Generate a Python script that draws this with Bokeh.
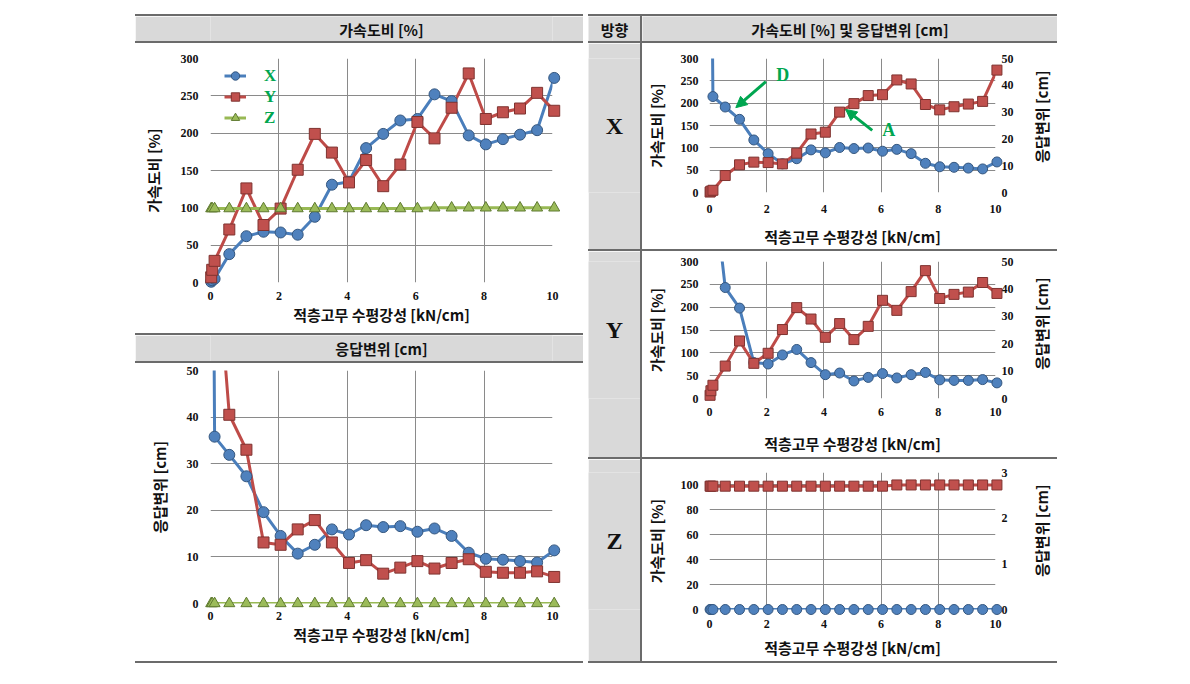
import math
from bokeh.plotting import figure
from bokeh.layouts import row, column
from bokeh.models import (Range1d, LinearAxis, FixedTicker, Spacer, Legend, LegendItem, Div,
                          Arrow, NormalHead, Label, ColumnDataSource, CDSView, BooleanFilter)
from bokeh.embed import file_html
from bokeh.resources import INLINE

# ---------------- data ----------------
stiffness = [0.02, 0.05, 0.12, 0.55, 1.05, 1.55, 2.05, 2.55, 3.05, 3.55, 4.05, 4.55,
             5.05, 5.55, 6.05, 6.55, 7.05, 7.55, 8.05, 8.55, 9.05, 9.55, 10.05]
acc_x = [1, 3, 5, 38, 62, 68, 67, 64, 88, 131, 135, 180, 199, 217, 219, 252, 243,
         197, 185, 192, 198, 204, 274]
acc_y = [7, 17, 29, 71, 126, 77, 99, 151, 199, 174, 134, 164, 129, 158, 215, 193,
         234, 280, 219, 228, 233, 254, 230]
acc_z = [99, 99, 99, 99, 99, 99, 99, 99, 99, 99, 99, 99, 99, 99, 99, 100, 100, 100,
         100, 100, 100, 100, 100]
disp_x = [250, 120, 35.8, 31.9, 27.3, 19.6, 14.5, 10.7, 12.6, 15.9, 14.8, 16.8, 16.4,
          16.6, 15.4, 16.1, 14.5, 10.9, 9.6, 9.4, 9.1, 8.8, 11.4]
disp_y = [150, 120, 80, 40.5, 33.0, 13.1, 12.6, 15.9, 17.9, 13.1, 8.7, 9.3, 6.4, 7.7,
          9.1, 7.5, 8.7, 9.5, 6.8, 6.6, 6.6, 6.9, 5.7]
disp_z = [0, 0, 0, 0, 0, 0, 0, 0, 0, 0, 0, 0, 0, 0, 0, 0, 0, 0, 0, 0, 0, 0, 0]

x_ticks = [0, 2, 4, 6, 8, 10]
x_grid = [2, 4, 6, 8, 10]
acc_ticks = [0, 50, 100, 150, 200, 250, 300]
disp_ticks = [0, 10, 20, 30, 40, 50]
accz_ticks = [0, 20, 40, 60, 80, 100]
dispz_ticks = [0, 1, 2, 3]

series_names = ["X", "Y", "Z"]
x_title = "적층고무 수평강성 [kN/cm]"
acc_title = "가속도비 [%]"
disp_title = "응답변위 [cm]"

# ---------------- style ----------------
KR = "Noto Sans CJK KR"
SERIF = "Liberation Serif"
HDR = "#d9d9d9"
LINE = "#6b6b6b"
GRID = "#8a8a8a"
BLUE = dict(line="#4a7ebb", fill="#4f81bd", edge="#35577f")
RED = dict(line="#be4b48", fill="#c0504d", edge="#7f3330")
GREEN = dict(line="#98b954", fill="#9bbb59", edge="#5f7a30")
LEG_GREEN = "#00a650"


def cell(w, h, txt=None, size="15px", font=KR, fill=HDR, ty=0.5, angle=0.0):
    p = figure(width=w, height=h, x_range=Range1d(0, 1), y_range=Range1d(0, 1),
               min_border=0, toolbar_location=None, output_backend="svg",
               x_axis_location=None, y_axis_location=None,
               background_fill_color=fill, border_fill_color=fill, outline_line_color=None)
    p.grid.visible = False
    if txt:
        p.add_layout(Label(x=0.5, y=ty, text=txt, angle=angle, text_align="center",
                           text_baseline="middle", text_font=font, text_font_size=size,
                           text_font_style="bold", text_color="#111111"))
    return p


def strip(w, h):
    return Div(text="", width=w, height=h,
               styles={"background-color": LINE, "margin": "0", "padding": "0"})


def style_axis(ax, ticks, label_standoff, title_standoff, title):
    ax.ticker = FixedTicker(ticks=ticks)
    ax.axis_line_color = None
    ax.major_tick_line_color = None
    ax.minor_tick_line_color = None
    ax.major_tick_out = 0
    ax.major_tick_in = 0
    ax.major_label_text_font = SERIF
    ax.major_label_text_font_style = "bold"
    ax.major_label_text_font_size = "12px"
    ax.major_label_text_color = "#111111"
    ax.major_label_standoff = label_standoff
    ax.axis_label = title
    ax.axis_label_text_font = KR
    ax.axis_label_text_font_style = "bold"
    ax.axis_label_text_font_size = "15px"
    ax.axis_label_text_color = "#111111"
    ax.axis_label_standoff = title_standoff


def chart(w, h, borders, yrange, yticks, xstand, ystand):
    l, r, t, b = borders
    p = figure(width=w, height=h, x_range=Range1d(0, 10), y_range=Range1d(*yrange),
               toolbar_location=None, output_backend="svg",
               min_border_left=l, min_border_right=r, min_border_top=t, min_border_bottom=b,
               outline_line_color=None, background_fill_color="white")
    style_axis(p.xaxis[0], x_ticks, xstand[0], xstand[1], x_title)
    style_axis(p.yaxis[0], yticks, ystand[0], ystand[1], acc_title)
    p.xgrid.ticker = FixedTicker(ticks=x_grid)
    p.grid.grid_line_color = GRID
    p.grid.grid_line_width = 1
    return p


def series(p, y, ymax, col, marker, size, rng="default"):
    src = ColumnDataSource(dict(x=stiffness, y=y))
    ln = p.line("x", "y", source=src, line_color=col["line"], line_width=3, y_range_name=rng)
    view = CDSView(filter=BooleanFilter([v <= ymax for v in y]))
    sc = p.scatter("x", "y", source=src, view=view, marker=marker, size=size,
                   fill_color=col["fill"], line_color=col["edge"], line_width=1,
                   y_range_name=rng)
    sc.level = "overlay"
    return ln, sc


# ---------------- left table ----------------
c1 = chart(448, 290, (74, 31, 15, 51), (0, 300), acc_ticks, (9, 1), (12, 14))
r1 = [series(c1, acc_x, 300, BLUE, "circle", 11),
      series(c1, acc_y, 300, RED, "square", 11),
      series(c1, acc_z, 300, GREEN, "triangle", 11)]
leg = Legend(items=[LegendItem(label=n, renderers=list(rs)) for n, rs in zip(series_names, r1)],
             location=(14, 154), padding=4, margin=0, spacing=0,
             glyph_width=22, glyph_height=21, label_height=21, label_standoff=18,
             label_text_font=SERIF, label_text_font_style="bold", label_text_font_size="17px",
             label_text_color=LEG_GREEN, background_fill_alpha=0, border_line_color=None)
c1.add_layout(leg)

c2 = chart(448, 298, (75, 31, 7, 58), (0, 50), disp_ticks, (8, 1), (12, 14))
c2.yaxis[0].axis_label = disp_title
series(c2, disp_x, 50, BLUE, "circle", 11)
series(c2, disp_y, 50, RED, "square", 11)
series(c2, disp_z, 50, GREEN, "triangle", 11)

left = column(Spacer(width=448, height=14), strip(448, 2), cell(448, 25, acc_title),
              strip(448, 2), c1, strip(448, 2), cell(448, 26, disp_title), strip(448, 2),
              c2, strip(448, 2))


# ---------------- right table ----------------
def panel(h, borders, yrange, yticks, drange, dticks, acc, disp, xstand, dmax):
    p = chart(383, h, borders, yrange, yticks, xstand, (11, 11))
    p.extra_y_ranges = {"disp": Range1d(*drange)}
    ax = LinearAxis(y_range_name="disp")
    style_axis(ax, dticks, 6, 0, None)
    p.add_layout(ax, "right")
    series(p, disp, dmax, BLUE, "circle", 10, "disp")
    series(p, acc, yrange[1], RED, "square", 10)
    return p


px = panel(206, (66, 30, 15, 54), (0, 300), acc_ticks, (0, 50), disp_ticks,
           acc_x, disp_x, (12, 10), 50)
for (x0, y0, x1, y1) in [(1.97, 248, 0.92, 190), (5.69, 139, 4.76, 186)]:
    px.add_layout(Arrow(end=NormalHead(size=11, fill_color=LEG_GREEN, line_color=LEG_GREEN),
                        x_start=x0, y_start=y0, x_end=x1, y_end=y1,
                        line_color=LEG_GREEN, line_width=3, level="overlay"))
for (tx, ty, tt) in [(2.56, 263, "D"), (6.27, 139, "A")]:
    px.add_layout(Label(x=tx, y=ty, text=tt, text_align="center", text_baseline="middle",
                        text_font=SERIF, text_font_style="bold", text_font_size="18px",
                        text_color=LEG_GREEN))

py = panel(206, (66, 30, 10, 59), (0, 300), acc_ticks, (0, 50), disp_ticks,
           acc_y, disp_y, (9, 14), 50)
pz = panel(202, (66, 30, 13, 52), (0, 110), accz_ticks, (0, 3), dispz_ticks,
           acc_z, disp_z, (10, 6), 3)


def side_title(h, ty):
    return cell(32, h, disp_title, "15px", KR, "white", ty, math.pi / 2)


right = column(Spacer(width=469, height=14), strip(469, 2),
               row(cell(52, 25, "방향"), strip(2, 25), cell(415, 25, "가속도비 [%] 및 응답변위 [cm]")),
               strip(469, 2),
               row(cell(52, 206, "X", "24px", SERIF), strip(2, 206), px, side_title(206, 0.567)),
               strip(469, 2),
               row(cell(52, 206, "Y", "24px", SERIF), strip(2, 206), py, side_title(206, 0.547)),
               strip(469, 2),
               row(cell(52, 202, "Z", "24px", SERIF), strip(2, 202), pz, side_title(202, 0.576)),
               strip(469, 2))

root = row(Spacer(width=135, height=10), left, Spacer(width=5, height=10), right)

open("out.html", "w").write(file_html(root, INLINE))
